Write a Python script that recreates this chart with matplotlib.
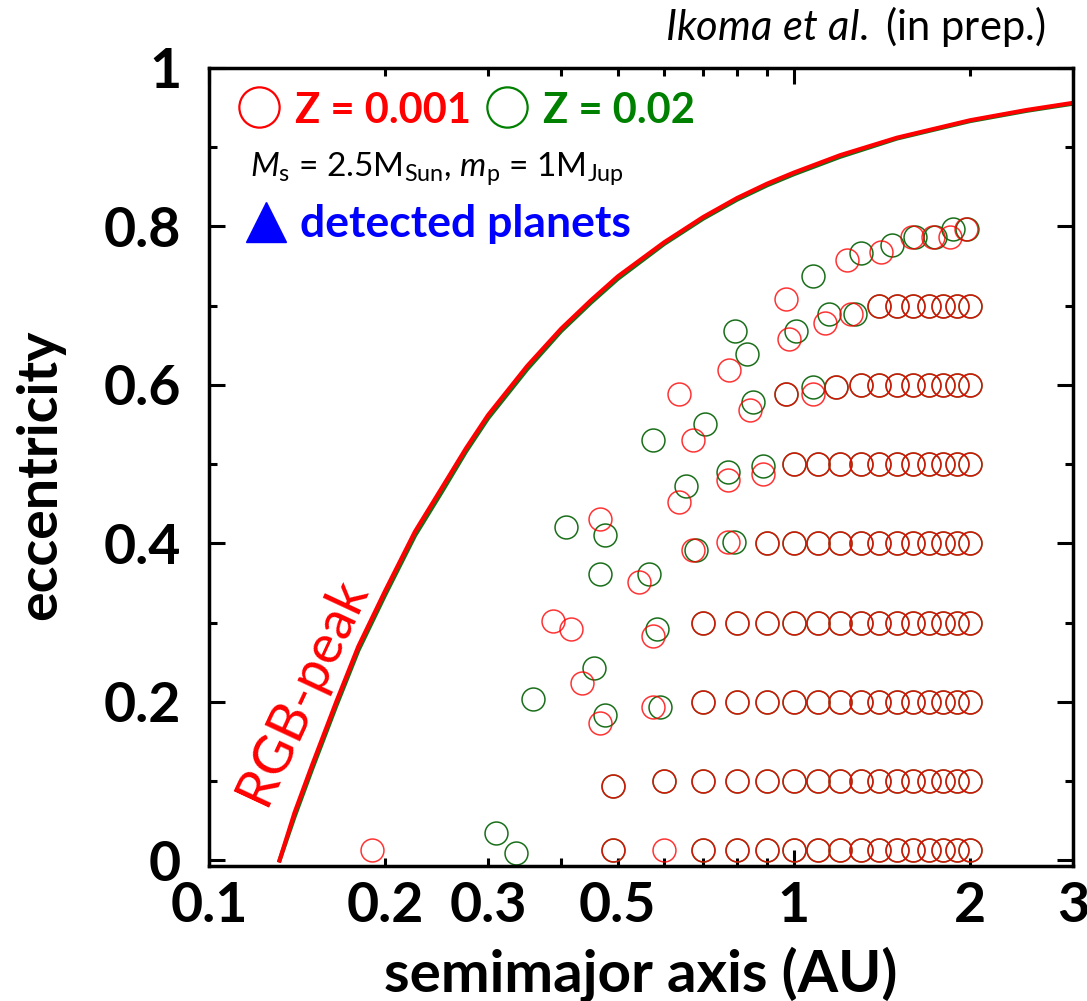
import matplotlib.pyplot as plt
import numpy as np

plt.rcParams['font.family'] = ['Lato', 'DejaVu Sans']
plt.rcParams['mathtext.fontset'] = 'custom'
plt.rcParams['mathtext.rm'] = 'Lato'
plt.rcParams['mathtext.it'] = 'Lato:italic'

W, H = 1087, 1001

RED = '#ff0000'
GREEN = '#1a6e1a'
GREEN_TXT = '#008000'

# RGB-peak boundary
curve_a = [0.132, 0.14, 0.15, 0.165, 0.18, 0.2, 0.225, 0.25, 0.275, 0.3, 0.35, 0.4, 0.45,
           0.5, 0.6, 0.7, 0.8, 0.9, 1.0, 1.2, 1.5, 2.0, 2.5, 3.0]
curve_e_red = [0.0, 0.06, 0.12, 0.2, 0.27, 0.34, 0.415, 0.47, 0.52, 0.562, 0.624, 0.671, 0.707,
               0.737, 0.78, 0.812, 0.836, 0.854, 0.868, 0.89, 0.912, 0.934, 0.947, 0.956]
curve_e_green = [0.0, 0.055, 0.115, 0.195, 0.265, 0.335, 0.41, 0.465, 0.516, 0.558, 0.62, 0.668,
                 0.704, 0.734, 0.778, 0.81, 0.834, 0.852, 0.866, 0.888, 0.911, 0.933, 0.946, 0.955]

# semimajor axes of the regular columns
grid_a = [0.6, 0.7, 0.8, 0.9, 1.0, 1.1, 1.2, 1.3, 1.4, 1.5, 1.6, 1.7, 1.8, 1.9, 2.0]

# regular rows: eccentricity and first column of each row
rows_e = [0.013, 0.1, 0.2, 0.3, 0.4, 0.5, 0.6, 0.7]
red_rows_start = [0.6, 0.6, 0.7, 0.7, 0.9, 1.0, 1.3, 1.4]
green_rows_start = [0.7, 0.6, 0.7, 0.7, 0.9, 1.0, 1.3, 1.4]

# scattered points, Z = 0.001
red_extra_a = [0.19, 0.49, 0.49, 0.466, 0.435, 0.575, 0.387, 0.416, 0.574, 0.544, 0.466,
               0.672, 0.77, 0.635, 0.672, 0.77, 0.886, 0.635, 0.775, 0.84, 0.97, 1.08,
               1.18, 0.97, 0.98, 1.13, 1.25, 1.23, 1.41, 1.59, 1.73, 1.85, 1.97]
red_extra_e = [0.013, 0.013, 0.094, 0.174, 0.224, 0.194, 0.302, 0.292, 0.283, 0.351, 0.431,
               0.392, 0.402, 0.452, 0.531, 0.48, 0.488, 0.589, 0.619, 0.569, 0.589, 0.589,
               0.598, 0.709, 0.658, 0.678, 0.689, 0.758, 0.768, 0.787, 0.787, 0.787, 0.797]

# scattered points, Z = 0.02
green_extra_a = [0.31, 0.335, 0.49, 0.49, 0.475, 0.358, 0.456, 0.59, 0.584, 0.79, 0.68,
                 0.566, 0.466, 0.475, 0.407, 0.886, 0.77, 0.655, 0.706, 0.574, 0.97, 1.08,
                 1.18, 0.85, 0.83, 0.794, 1.27, 1.15, 1.01, 1.08, 1.30, 1.47, 1.61, 1.74,
                 1.87, 1.98]
green_extra_e = [0.035, 0.01, 0.013, 0.094, 0.184, 0.204, 0.243, 0.194, 0.292, 0.402, 0.392,
                 0.362, 0.362, 0.411, 0.421, 0.498, 0.49, 0.472, 0.551, 0.531, 0.589, 0.598,
                 0.598, 0.579, 0.639, 0.668, 0.689, 0.689, 0.668, 0.738, 0.767, 0.777, 0.787,
                 0.787, 0.797, 0.797]

x_major = [0.1, 1]
x_major_labels = ['0.1', '1']
x_minor = [0.2, 0.3, 0.4, 0.5, 0.6, 0.7, 0.8, 0.9, 2, 3]
x_minor_labels = ['0.2', '0.3', '', '0.5', '', '', '', '', '2', '3']
y_major = [0, 0.2, 0.4, 0.6, 0.8, 1.0]
y_major_labels = ['0', '0.2', '0.4', '0.6', '0.8', '1']
y_minor = [0.1, 0.3, 0.5, 0.7, 0.9]


def build(rows_start, extra_a, extra_e):
    a, e = [], []
    for e0, a0 in zip(rows_e, rows_start):
        for g in grid_a:
            if g >= a0 - 1e-9:
                a.append(g)
                e.append(e0)
    return np.array(a + extra_a), np.array(e + extra_e)


red_a, red_e = build(red_rows_start, red_extra_a, red_extra_e)
green_a, green_e = build(green_rows_start, green_extra_a, green_extra_e)


def fx(x):
    return x / W


def fy(y):
    return 1 - y / H


fig = plt.figure(figsize=(W / 100, H / 100), dpi=100)
ax = fig.add_axes([fx(209), fy(866), (1073 - 209) / W, (866 - 68) / H])

ax.plot(curve_a, curve_e_green, color=GREEN, lw=3)
ax.plot(curve_a, curve_e_red, color=RED, lw=3)

ax.plot(green_a, green_e, 'o', ls='none', mfc='none', mec=GREEN, ms=16.5, mew=1.1, clip_on=False)
ax.plot(red_a, red_e, 'o', ls='none', mfc='none', mec=RED, ms=16.5, mew=1.1, alpha=0.8, clip_on=False)

ax.set_xscale('log')
ax.set_xlim(0.1, 3)
ax.set_ylim(-0.007, 1.0)
ax.set_xticks(x_major, x_major_labels)
ax.set_xticks(x_minor, x_minor_labels, minor=True)
ax.set_yticks(y_major, y_major_labels)
ax.set_yticks(y_minor, minor=True)

ax.tick_params(which='both', direction='in', top=True, right=True, width=2.2, labelsize=40)
ax.tick_params(which='major', length=11.5)
ax.tick_params(which='minor', length=6)
ax.tick_params(axis='x', which='both', pad=11)
ax.tick_params(axis='y', which='both', pad=20)
for lab in ax.get_xticklabels(which='both') + ax.get_yticklabels():
    lab.set_fontweight('bold')
for sp in ax.spines.values():
    sp.set_linewidth(2.5)

ax.set_xlabel('semimajor axis (AU)', fontsize=42, fontweight='bold')
ax.xaxis.set_label_coords(0.5, (866 - 992) / 798)
ax.xaxis.label.set_va('baseline')
ax.set_ylabel('eccentricity', fontsize=40, fontweight='bold')
ax.yaxis.set_label_coords((40 - 209) / 864, 0.49)
ax.yaxis.label.set_va('center')

# RGB-peak label
fig.text(fx(302), fy(691), 'RGB-peak', color=RED, fontsize=39, rotation=65,
         ha='center', va='center', rotation_mode='anchor')

# legend-like annotations
ax.plot([fx(259)], [fy(107)], 'o', transform=fig.transFigure, mfc='none', mec=RED,
        ms=29, mew=1.6, clip_on=False)
fig.text(fx(295), fy(123), 'Z = 0.001', color=RED, fontsize=30, fontweight='bold', va='baseline')
ax.plot([fx(507)], [fy(107)], 'o', transform=fig.transFigure, mfc='none', mec=GREEN_TXT,
        ms=29, mew=1.6, clip_on=False)
fig.text(fx(543), fy(123), 'Z = 0.02', color=GREEN_TXT, fontsize=30, fontweight='bold', va='baseline')
fig.text(fx(250), fy(176),
         r'$M_{\mathrm{s}}$ = 2.5M$_{\mathrm{Sun}}$, $m_{\mathrm{p}}$ = 1M$_{\mathrm{Jup}}$',
         fontsize=24, va='baseline')
ax.plot([fx(266)], [fy(222)], '^', transform=fig.transFigure, color='blue', ms=29, clip_on=False)
fig.text(fx(300), fy(237), 'detected planets', color='blue', fontsize=32, fontweight='bold',
         va='baseline')

fig.text(fx(1045), fy(40), r'$\mathit{Ikoma\ et\ al.}$ (in prep.)', fontsize=30,
         ha='right', va='baseline')

fig.savefig('out.png', dpi=100)
